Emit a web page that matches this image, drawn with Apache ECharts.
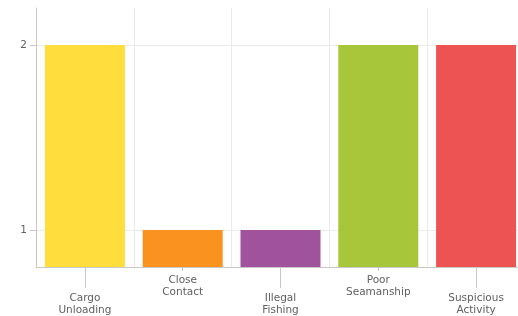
<!DOCTYPE html>
<html><head><meta charset="utf-8">
<script src="https://cdn.jsdelivr.net/npm/echarts@6/dist/echarts.min.js"></script>
<style>html,body{margin:0;padding:0;background:#fff;overflow:hidden}#c{width:518px;height:316px}</style>
</head><body><div id="c"></div>
<script>
var categories = ['Cargo\nUnloading', 'Close\nContact', 'Illegal\nFishing', 'Poor\nSeamanship', 'Suspicious\nActivity'];
var values = [2, 1, 1, 2, 2];
var colors = ['#FEDD3C', '#F9921F', '#A0529C', '#A7C63A', '#EE5354'];
var yTicks = [1, 2];

var chart = echarts.init(document.getElementById('c'), null, {renderer: 'canvas'});
var font = 'DejaVu Sans';
var labelColor = '#606060';
chart.setOption({
  animation: false,
  grid: {left: 36, width: 489, top: 8, bottom: 49, containLabel: false, outerBoundsMode: 'none'},
  xAxis: [{
    type: 'category', data: categories, gridIndex: 0, position: 'bottom',
    axisLine: {show: true, lineStyle: {color: '#c8c8c8', width: 1}},
    axisTick: {show: true, alignWithLabel: true, length: 4, lineStyle: {color: '#c8c8c8'},
      interval: function (i) { return i % 2 === 1; }},
    axisLabel: {interval: function (i) { return i % 2 === 1; }, margin: 7,
      color: labelColor, fontFamily: font, fontSize: 10.5, lineHeight: 12},
    splitLine: {show: true, interval: 0, lineStyle: {color: '#ebebeb', width: 1}}
  }, {
    type: 'category', data: categories, gridIndex: 0, position: 'bottom',
    axisLine: {show: false},
    axisTick: {show: true, alignWithLabel: true, length: 21, lineStyle: {color: '#c8c8c8'},
      interval: function (i) { return i % 2 === 0; }},
    axisLabel: {interval: function (i) { return i % 2 === 0; }, margin: 25,
      color: labelColor, fontFamily: font, fontSize: 10.5, lineHeight: 12},
    splitLine: {show: false}
  }],
  yAxis: {
    type: 'value', min: 0.8, max: 2.2,
    axisLine: {show: true, lineStyle: {color: '#c8c8c8', width: 1}},
    axisTick: {show: true, length: 6, lineStyle: {color: '#c8c8c8'}, customValues: yTicks},
    axisLabel: {color: labelColor, fontFamily: font, fontSize: 10.5, margin: 9, customValues: yTicks},
    splitLine: {show: true, lineStyle: {color: '#ebebeb', width: 1}}
  },
  series: [{
    type: 'bar', xAxisIndex: 0, barWidth: 80,
    data: values.map(function (v, i) { return {value: v, itemStyle: {color: colors[i]}}; })
  }]
});
</script></body></html>
